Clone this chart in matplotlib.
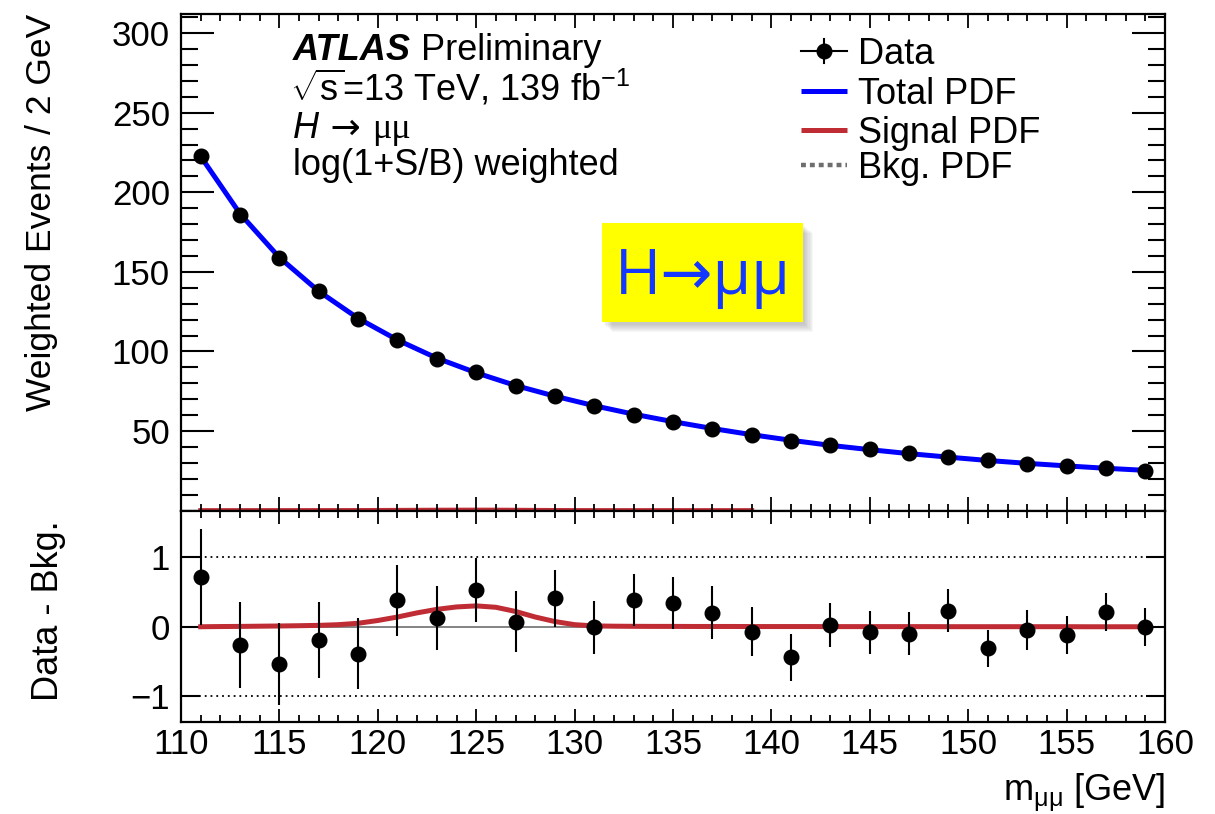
import matplotlib
matplotlib.use("Agg")
import matplotlib.pyplot as plt
from matplotlib.lines import Line2D
from matplotlib.patches import Rectangle
from matplotlib.ticker import FixedLocator, MultipleLocator

plt.rcParams['font.family'] = ['Liberation Sans', 'DejaVu Sans']
plt.rcParams['mathtext.fontset'] = 'custom'
plt.rcParams['mathtext.rm'] = 'Liberation Sans'
plt.rcParams['mathtext.it'] = 'Liberation Sans:italic'
plt.rcParams['mathtext.bf'] = 'Liberation Sans:bold'
plt.rcParams['axes.linewidth'] = 1.6

# --- binned data: dimuon invariant mass, 2 GeV bins ---
mass = [111, 113, 115, 117, 119, 121, 123, 125, 127, 129, 131, 133, 135,
        137, 139, 141, 143, 145, 147, 149, 151, 153, 155, 157, 159]
events = [223.0, 186.0, 159.0, 138.0, 120.5, 107.5, 95.5, 87.0, 78.5, 71.8,
          65.5, 60.3, 55.8, 51.3, 47.3, 43.5, 41.0, 38.4, 35.9, 34.0, 31.5,
          29.6, 28.2, 26.9, 25.2]
total_pdf = [222.5, 186.5, 159.0, 137.8, 120.8, 107.2, 95.8, 86.6, 78.6,
             71.9, 65.9, 60.6, 55.9, 51.6, 47.7, 44.2, 41.0, 38.3, 35.8, 33.6,
             31.5, 29.7, 28.1, 26.6, 25.3]
residual = [0.72, -0.26, -0.54, -0.19, -0.39, 0.38, 0.13, 0.53, 0.07, 0.41,
            -0.01, 0.385, 0.34, 0.20, -0.07, -0.44, 0.025, -0.08, -0.10, 0.23,
            -0.31, -0.05, -0.12, 0.21, 0.0]
residual_err = [0.69, 0.62, 0.59, 0.54, 0.51, 0.51, 0.46, 0.46, 0.44, 0.41,
                0.385, 0.37, 0.37, 0.38, 0.35, 0.34, 0.32, 0.31, 0.31, 0.31,
                0.27, 0.29, 0.27, 0.275, 0.27]

# signal shape on a 1 GeV grid
signal_mass = list(range(111, 160))
signal_pdf = [0.0, 0.003, 0.005, 0.008, 0.011, 0.015, 0.02, 0.03, 0.05,
              0.09, 0.14, 0.20, 0.25, 0.285, 0.30, 0.28, 0.22, 0.14, 0.075,
              0.03, 0.012, 0.008, 0.006, 0.005, 0.005, 0.004, 0.004, 0.004,
              0.003, 0.003, 0.003, 0.003, 0.002, 0.002, 0.002, 0.002, 0.002,
              0.002, 0.001, 0.001, 0.001, 0.001, 0.001, 0.001, 0.001, 0.0,
              0.0, 0.0, 0.0]
signal_upper_end = 139
bkg_residual = [0.0] * len(mass)

x_ticks = [110, 115, 120, 125, 130, 135, 140, 145, 150, 155, 160]
y_ticks_upper = [50, 100, 150, 200, 250, 300]
y_ticks_lower = [-1, 0, 1]

BLUE = '#0000ff'
RED = '#bf2c34'
GREY = '#6e6e6e'

fig = plt.figure(figsize=(12.15, 8.14), dpi=100)
left, right = 0.149, 0.9588
split = 0.3727
ax1 = fig.add_axes([left, split, right - left, 0.9828 - split])
ax2 = fig.add_axes([left, 0.1130, right - left, split - 0.1130], sharex=ax1)

# ---------------- upper panel ----------------
ax1.plot(mass, total_pdf, color=BLUE, lw=3.6, zorder=2,
         solid_capstyle='butt')
sig_up_x = [m for m in signal_mass if m <= signal_upper_end]
sig_up_y = signal_pdf[:len(sig_up_x)]
ax1.plot(sig_up_x, sig_up_y, color=RED, lw=3.6, zorder=1, clip_on=False)
ax1.errorbar(mass, events, yerr=residual_err, fmt='o', color='black',
             ms=10.5, elinewidth=1.5, capsize=0, zorder=3)

ax1.set_xlim(110, 160)
ax1.set_ylim(0, 312)
ax1.yaxis.set_major_locator(FixedLocator(y_ticks_upper))
ax1.yaxis.set_minor_locator(MultipleLocator(10))
ax1.xaxis.set_major_locator(FixedLocator(x_ticks))
ax1.xaxis.set_minor_locator(MultipleLocator(1))
ax1.tick_params(axis='y', which='both', direction='in', left=True, right=True,
                labelsize=25, pad=8, width=1.5)
ax1.tick_params(axis='y', which='major', length=24)
ax1.tick_params(axis='y', which='minor', length=12)
ax1.tick_params(axis='x', which='both', direction='in', top=True, bottom=True,
                labelbottom=False, width=1.3)
ax1.tick_params(axis='x', which='major', length=10)
ax1.tick_params(axis='x', which='minor', length=5)

ax1.text(-0.1321, 1.0, 'Weighted Events / 2 GeV', transform=ax1.transAxes,
         rotation=90, rotation_mode='anchor', ha='right', va='baseline',
         fontsize=25.5)

# ATLAS label block
tx = 0.114
t1 = ax1.text(tx, 0.907, 'ATLAS', transform=ax1.transAxes, fontsize=26,
              fontweight='bold', fontstyle='italic', va='baseline')
ax1.annotate(' Preliminary', xy=(1, 0), xycoords=t1, va='bottom',
             fontsize=26)
ax1.text(tx - 0.003, 0.825, r'$\sqrt{\mathrm{s}}$=13 TeV, 139 fb$^{\mathregular{-1}}$',
         transform=ax1.transAxes, fontsize=26, va='baseline')
t3 = ax1.text(tx, 0.750, 'H', transform=ax1.transAxes, fontsize=26,
              fontstyle='italic', va='baseline')
t3b = ax1.annotate(' \u2192 ', xy=(1, 0), xycoords=t3, va='bottom',
                   fontsize=26, family=['DejaVu Sans'])
ax1.annotate('\u03bc\u03bc', xy=(1, 0), xycoords=t3b, va='bottom',
             fontsize=26, family=['Liberation Serif', 'DejaVu Serif'])
ax1.text(tx, 0.676, 'log(1+S/B) weighted', transform=ax1.transAxes,
         fontsize=26, va='baseline')

# legend
hx0, hx1, tx_leg = 0.6306, 0.6765, 0.688
rows = [0.9255, 0.8455, 0.7670, 0.6965]
hm = 0.5 * (hx0 + hx1)
ax1.add_line(Line2D([hx0, hx1], [rows[0], rows[0]], color='black', lw=1.5,
                    transform=ax1.transAxes))
ax1.add_line(Line2D([hm, hm], [rows[0] - 0.024, rows[0] + 0.024],
                    color='black', lw=1.5, transform=ax1.transAxes))
ax1.add_line(Line2D([hm], [rows[0]], marker='o', ms=10.5, color='black',
                    transform=ax1.transAxes))
ax1.add_line(Line2D([hx0, hx1], [rows[1]] * 2, color=BLUE, lw=3.6,
                    transform=ax1.transAxes, solid_capstyle='butt'))
ax1.add_line(Line2D([hx0, hx1], [rows[2]] * 2, color=RED, lw=3.6,
                    transform=ax1.transAxes, solid_capstyle='butt'))
ax1.add_line(Line2D([hx0, hx1], [rows[3]] * 2, color=GREY, lw=3.2,
                    ls=(0, (1.1, 0.9)), transform=ax1.transAxes,
                    dash_capstyle='butt'))
for y, lab in zip(rows, ['Data', 'Total PDF', 'Signal PDF', 'Bkg. PDF']):
    ax1.text(tx_leg, y, lab, transform=ax1.transAxes, fontsize=26,
             va='center_baseline')

# highlighted process box with soft shadow
bx0, bx1, by0, by1 = 0.428, 0.632, 0.380, 0.579
for i in range(8):
    d = 0.0012 * i
    ax1.add_patch(Rectangle((bx0 + 0.002 + d, by0 - 0.006 - 1.6 * d),
                            bx1 - bx0, by1 - by0, transform=ax1.transAxes,
                            facecolor='#505050', edgecolor='none', alpha=0.045,
                            zorder=4))
ax1.add_patch(Rectangle((bx0, by0), bx1 - bx0, by1 - by0,
                        transform=ax1.transAxes, facecolor='#ffff00',
                        edgecolor='none', zorder=5))
ax1.text(0.5 * (bx0 + bx1), 0.436, 'H\u2192\u03bc\u03bc',
         transform=ax1.transAxes, ha='center', va='baseline', fontsize=45,
         color='#1438ff', family=['Open Sans', 'DejaVu Sans'], zorder=6)

# ---------------- lower panel ----------------
ax2.plot([110.9, 159.5], [1, 1], color='black', lw=1.3, ls=(0, (1, 2.2)))
ax2.plot([110.9, 159.5], [-1, -1], color='black', lw=1.3, ls=(0, (1, 2.2)))
ax2.plot(mass, bkg_residual, color=GREY, lw=1.2, zorder=1)
ax2.plot(signal_mass, signal_pdf, color=RED, lw=3.6, zorder=2)
ax2.errorbar(mass, residual, yerr=residual_err, fmt='o', color='black',
             ms=10.5, elinewidth=1.5, capsize=0, zorder=3)

ax2.set_ylim(-1.37, 1.67)
ax2.yaxis.set_major_locator(FixedLocator(y_ticks_lower))
ax2.yaxis.set_minor_locator(FixedLocator([]))
ax2.tick_params(axis='y', which='major', direction='in', left=True,
                right=True, length=13.5, width=1.5, labelsize=25, pad=8)
ax2.tick_params(axis='x', which='both', direction='in', top=True, bottom=True,
                labelsize=25, pad=4, width=1.3)
ax2.tick_params(axis='x', which='major', length=9.5)
ax2.tick_params(axis='x', which='minor', length=5)
ax2.set_xticks(x_ticks)
ax2.set_xticklabels([str(v) for v in x_ticks])

ax2.text(-0.125, 0.955, 'Data - Bkg.', transform=ax2.transAxes,
         rotation=90, rotation_mode='anchor', ha='right', va='baseline',
         fontsize=26)
ax2.text(1.0, -0.375, r'm$_{\mathrm{\mu\mu}}$ [GeV]', transform=ax2.transAxes,
         ha='right', va='baseline', fontsize=26)

fig.savefig('out.png', dpi=100)
